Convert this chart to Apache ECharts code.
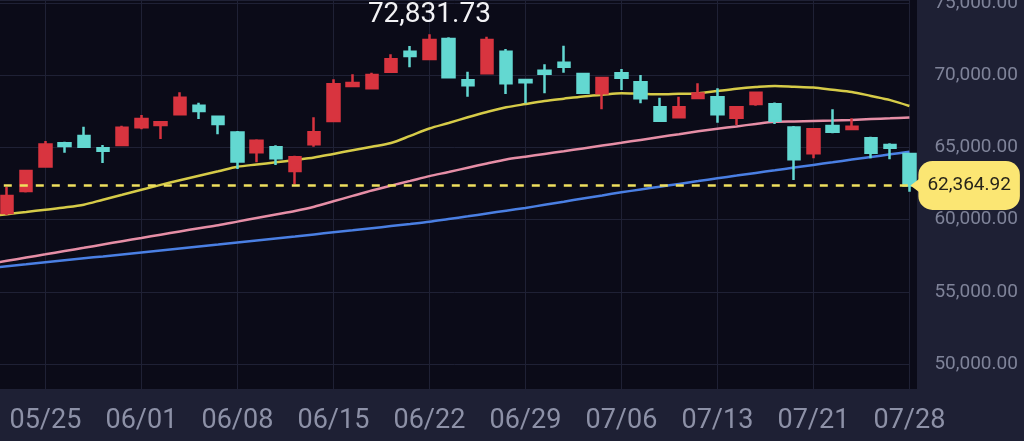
<!DOCTYPE html>
<html>
<head>
<meta charset="utf-8">
<script src="https://cdn.jsdelivr.net/npm/echarts@6/dist/echarts.min.js"></script>
<style>
  html, body { margin: 0; padding: 0; background: #1e2034; }
  #chart { width: 1024px; height: 441px; }
</style>
</head>
<body>
<div id="chart"></div>
<script>
// Trading days (first entry only carries moving averages)
const dates = ['05/20','05/21','05/22','05/25','05/26','05/27','05/28','05/29',
  '06/01','06/02','06/03','06/04','06/05','06/08','06/09','06/10','06/11','06/12',
  '06/15','06/16','06/17','06/18','06/19','06/22','06/23','06/24','06/25','06/26',
  '06/29','06/30','07/01','07/02','07/03','07/06','07/07','07/08','07/09','07/10',
  '07/13','07/14','07/15','07/16','07/17','07/21','07/22','07/23','07/24','07/27','07/28'];

const openPrices  = [null, 60457, 61980, 63677, 65283, 65789, 64937, 65166, 66391, 66551, 67291,
  67888, 67125, 66024, 64660, 65006, 63365, 65214, 66828, 69252, 69092, 70241, 71626, 71121,
  72506, 69646, 70131, 71626, 69667, 70311, 70864, 70082, 68746, 70131, 69507, 67777, 67084,
  68420, 68468, 67056, 68005, 67984, 66384, 64591, 66482, 66274, 65630, 65166, 64543];
const closePrices = [null, 61634, 63365, 65200, 65097, 65048, 64771, 66364, 66966, 66738, 68441,
  67520, 66620, 64023, 65464, 64245, 64314, 66045, 69370, 69459, 70013, 71100, 71329, 72437,
  69854, 69300, 72437, 69438, 69507, 70103, 70588, 68787, 69805, 69825, 68399, 66848, 67777,
  68740, 67291, 67777, 68787, 66848, 64175, 66253, 66086, 66433, 64633, 64979, 62364.92];
const lowPrices   = [null, 60318, 61876, 63594, 64633, 65027, 63919, 65145, 66253, 65581, 67278,
  66966, 65907, 63504, 63968, 63781, 62444, 65048, 66779, 69162, 69078, 70172, 70546, 71087,
  69840, 68510, 70062, 68698, 68054, 68741, 70172, 68767, 67638, 68975, 68054, 66830, 67070,
  68330, 66710, 66551, 67888, 66620, 62742, 64245, 65976, 66260, 64245, 64175, 61932];
const highPrices  = [null, 62257, 63435, 65443, 65394, 66433, 65166, 66502, 67243, 66760, 68815,
  68095, 67139, 66135, 65561, 65145, 64425, 67084, 69716, 70062, 70172, 71446, 72022, 72831.73,
  72624, 70241, 72666, 71813, 69680, 70754, 72042, 70151, 69854, 70428, 70013, 68441, 68510,
  69438, 69092, 67867, 68857, 68115, 66482, 66275, 67638, 67014, 65745, 65283, 64633];

const maShort = [60207, 60374, 60526, 60685, 60838, 61032, 61378, 61717, 62063, 62403, 62728,
  63040, 63345, 63656, 63815, 63968, 64127, 64300, 64549, 64799, 65048, 65304, 65796, 66308,
  66689, 67084, 67451, 67776, 67998, 68206, 68372, 68531, 68642, 68746, 68711, 68677, 68711,
  68739, 68905, 69065, 69182, 69258, 69203, 69141, 68988, 68843, 68559, 68275, 67867];
const maMid = [56918, 57147, 57375, 57597, 57825, 58047, 58275, 58504, 58726, 58954, 59183,
  59404, 59612, 59861, 60111, 60360, 60602, 60893, 61267, 61641, 62015, 62354, 62680, 63012,
  63296, 63594, 63885, 64162, 64355, 64549, 64736, 64930, 65124, 65318, 65519, 65720, 65914,
  66114, 66288, 66454, 66627, 66772, 66800, 66828, 66855, 66904, 66959, 67015, 67077];
const maLong = [56627, 56766, 56904, 57043, 57181, 57320, 57451, 57590, 57728, 57867, 58005,
  58144, 58275, 58414, 58552, 58691, 58829, 58975, 59120, 59259, 59404, 59550, 59695, 59847,
  60041, 60228, 60422, 60616, 60810, 61025, 61239, 61461, 61676, 61890, 62084, 62278, 62472,
  62666, 62860, 63047, 63234, 63414, 63601, 63788, 63968, 64155, 64335, 64522, 64702];

const yMin = 48269, yMax = 75207;

const candles = dates.map((d, i) => openPrices[i] == null ? '-' :
  [openPrices[i], closePrices[i], lowPrices[i], highPrices[i]]);
const lastIdx = dates.length - 1;
const lastClose = closePrices[lastIdx];
const fmt = v => Number(v).toLocaleString('en-US', {minimumFractionDigits: 2, maximumFractionDigits: 2});
const weekStart = idx => idx >= 3 && (idx - 3) % 5 === 0;

const UP = '#d8343f', DOWN = '#63d8d1', TAG = '#fbe673';
const FONT = 'Roboto, "Noto Sans", sans-serif';

const chart = echarts.init(document.getElementById('chart'), null, {renderer: 'canvas'});
chart.setOption({
  animation: false,
  backgroundColor: '#1e2034',
  graphic: [{
    type: 'rect', left: 0, top: 0, z: -10, silent: true,
    shape: {width: 917, height: 389},
    style: {fill: '#0b0b18'}
  }],
  grid: {left: -12.2, right: 114.6, top: 0, bottom: 52, containLabel: false, outerBoundsMode: 'none'},
  xAxis: {
    type: 'category', data: dates, boundaryGap: false,
    axisLine: {show: false}, axisTick: {show: false},
    axisLabel: {interval: (i) => weekStart(i), color: '#8d91a7', fontSize: 27, margin: 19, fontFamily: FONT},
    splitLine: {show: true, interval: (i) => weekStart(i), lineStyle: {color: '#1f2135', width: 1}}
  },
  yAxis: {
    type: 'value', position: 'right', min: yMin, max: yMax, splitNumber: 5,
    axisLine: {show: false}, axisTick: {show: false},
    axisLabel: {formatter: v => fmt(v), color: '#7f8399', fontSize: 19, margin: 25,
      fontFamily: FONT, showMinLabel: false, showMaxLabel: false},
    splitLine: {lineStyle: {color: '#1f2135', width: 1}}
  },
  series: [
    {type: 'line', data: maShort, symbol: 'none', smooth: 0.3, z: 3,
      lineStyle: {color: '#d6cb48', width: 2.5}},
    {type: 'line', data: maMid, symbol: 'none', smooth: 0.3, z: 3,
      lineStyle: {color: '#e68ea6', width: 2.5}},
    {type: 'line', data: maLong, symbol: 'none', smooth: 0.3, z: 3,
      lineStyle: {color: '#4a7fe3', width: 2.5}},
    {
      type: 'candlestick', data: candles, barWidth: 12, clip: false, z: 4,
      itemStyle: {color: UP, color0: DOWN, borderColor: UP, borderColor0: DOWN, borderWidth: 2.5},
      markPoint: {
        silent: true,
        data: [
          {type: 'max', valueDim: 'highest', symbol: 'rect', symbolSize: 0,
            label: {show: true, position: 'top', distance: 5, formatter: p => fmt(p.value),
              color: '#f2f2f5', fontSize: 28, fontFamily: FONT}},
          {coord: [dates[lastIdx], lastClose], symbol: 'triangle', symbolRotate: 90,
            symbolSize: [18, 12], symbolOffset: [7, 0],
            itemStyle: {color: TAG}, label: {show: false}}
        ]
      },
      markLine: {
        silent: true, symbol: ['none', 'none'],
        data: [{yAxis: lastClose}],
        lineStyle: {color: '#efe05e', width: 2.5, type: [8, 8]},
        label: {show: true, position: 'end', distance: 9, formatter: p => fmt(p.value),
          backgroundColor: TAG, borderRadius: 14, padding: [15, 9],
          color: '#26241a', fontSize: 19, fontFamily: FONT}
      }
    }
  ]
});
</script>
</body>
</html>
